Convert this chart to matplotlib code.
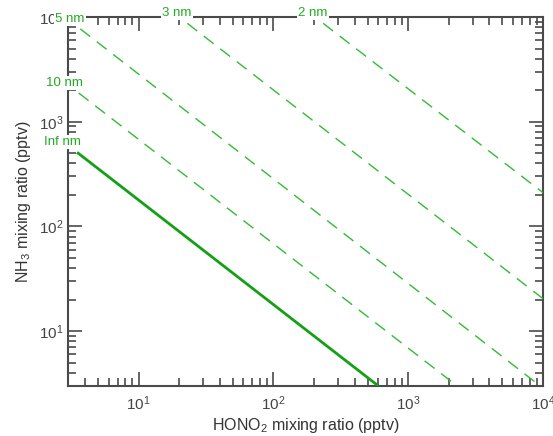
import matplotlib
matplotlib.use("Agg")
import matplotlib.pyplot as plt
from matplotlib.ticker import LogLocator, LogFormatterMathtext, NullFormatter

plt.rcParams['font.family'] = ['Liberation Sans', 'DejaVu Sans']
plt.rcParams['mathtext.fontset'] = 'custom'
plt.rcParams['mathtext.rm'] = 'Liberation Sans'

# equilibrium lines: start / end points (pptv)
sizes = ["Inf nm", "10 nm", "5 nm", "3 nm", "2 nm"]
x_start = [3.5, 3.6, 3.7, 23, 234]
y_start = [510, 1880, 7700, 8700, 8700]
x_end = [600, 2300, 9500, 10000, 10000]
y_end = [3, 3, 3, 20.4, 210]

axis_col = '#4a4a4a'
fig = plt.figure(figsize=(5.53, 4.36), dpi=100)
ax = fig.add_axes([0.123, 0.115, 0.859, 0.846])

for i, name in enumerate(sizes):
    if name == "Inf nm":
        ax.plot([x_start[i], x_end[i]], [y_start[i], y_end[i]],
                color='#14a014', lw=2.0, solid_capstyle='butt', zorder=3)
    else:
        ax.plot([x_start[i], x_end[i]], [y_start[i], y_end[i]],
                color='#33bb33', lw=1.0, dashes=(9, 6), zorder=3)
    ax.annotate(name, (x_start[i], y_start[i]), xytext=(3, 3),
                textcoords='offset points', ha='right', va='bottom',
                color='#22aa22', fontsize=9.5, zorder=10, annotation_clip=False,
                bbox=dict(boxstyle='square,pad=0.1', fc='white', ec='none'))

ax.set_xscale('log')
ax.set_yscale('log')
ax.set_xlim(3, 1e4)
ax.set_ylim(3, 1e4)

for a in (ax.xaxis, ax.yaxis):
    a.set_major_locator(LogLocator(base=10))
    a.set_minor_locator(LogLocator(base=10, subs=range(2, 10)))
    a.set_major_formatter(LogFormatterMathtext())
    a.set_minor_formatter(NullFormatter())

ax.tick_params(which='both', direction='in', top=True, right=True,
               color=axis_col, width=1.2, labelcolor='#444444', labelsize=11)
ax.tick_params(which='major', length=10)
ax.tick_params(which='minor', length=6)
ax.tick_params(axis='x', pad=6)
for s in ax.spines.values():
    s.set_color(axis_col)
    s.set_linewidth(1.5)

ax.set_xlabel("HONO$_2$ mixing ratio (pptv)", fontsize=11.5, color='#333333', labelpad=2)
ax.set_ylabel("NH$_3$ mixing ratio (pptv)", fontsize=11.5, color='#333333', labelpad=4)

fig.savefig("out.png", dpi=100)
